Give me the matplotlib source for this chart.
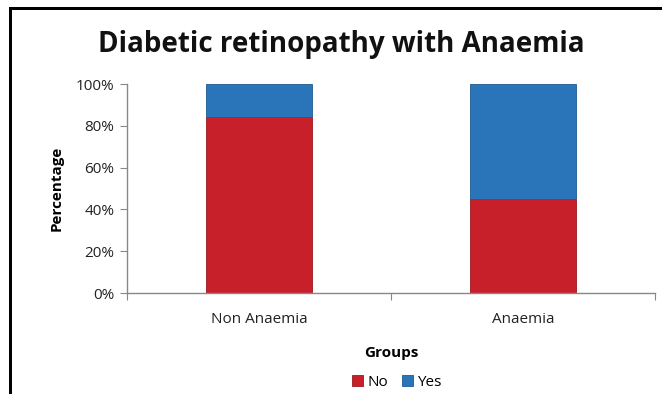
import matplotlib
matplotlib.use("Agg")
import matplotlib.pyplot as plt
from matplotlib.patches import Rectangle
from matplotlib.ticker import PercentFormatter

categories = ["Non Anaemia", "Anaemia"]
no_values = [84, 45]
yes_values = [16, 55]
yticks = [0, 20, 40, 60, 80, 100]

plt.rcParams['font.family'] = ['Open Sans', 'DejaVu Sans']

fig = plt.figure(figsize=(6.65, 3.94), dpi=100)
ax = fig.add_axes([0.191, 0.2563, 0.794, 0.5305])

red = "#C8202B"
blue = "#2A74BA"
x = list(range(len(categories)))
ax.bar(x, no_values, width=0.4, color=red, edgecolor="#9A1A20", linewidth=0.6, label="No")
ax.bar(x, yes_values, width=0.4, bottom=no_values, color=blue, edgecolor="#1F5A92", linewidth=0.6, label="Yes")

ax.set_xlim(-0.5, 1.5)
ax.set_ylim(0, 100)
ax.set_yticks(yticks)
ax.yaxis.set_major_formatter(PercentFormatter(decimals=0))
ax.set_xticks([-0.5, 0.5, 1.5])
ax.set_xticklabels([])
ax.set_xticks(x, minor=True)
ax.set_xticklabels(categories, minor=True)
ax.tick_params(axis='x', which='minor', length=0, pad=14, labelsize=11, colors="#222222")
ax.tick_params(axis='x', which='major', length=5, color="#888888")
ax.tick_params(axis='y', length=5, color="#888888", labelsize=11, labelcolor="#222222", pad=4)

for s in ["top", "right"]:
    ax.spines[s].set_visible(False)
for s in ["left", "bottom"]:
    ax.spines[s].set_color("#888888")
    ax.spines[s].set_linewidth(1.0)

ax.set_ylabel("Percentage", fontsize=11, fontweight="bold", labelpad=9)
ax.set_xlabel("Groups", fontsize=11, fontweight="bold", labelpad=13)

fig.text(0.514, 0.868, "Diabetic retinopathy with Anaemia", ha="center", va="baseline",
         fontsize=20, fontweight="bold", color="#111111")

handles, labels = ax.get_legend_handles_labels()
fig.legend(handles, labels, loc="center", bbox_to_anchor=(0.597, 0.029), ncol=2, frameon=False,
           fontsize=11, handlelength=0.7, handleheight=0.7, handletextpad=0.3, columnspacing=0.9)

W, H = 665.0, 394.0
fig.patches.append(Rectangle((9 / W, 0), 3 / W, 1 - 7 / H, transform=fig.transFigure,
                             facecolor="black", edgecolor="none"))
fig.patches.append(Rectangle((9 / W, 1 - 10 / H), 1 - 12 / W, 3 / H, transform=fig.transFigure,
                             facecolor="black", edgecolor="none"))

fig.savefig("out.png", dpi=100)
